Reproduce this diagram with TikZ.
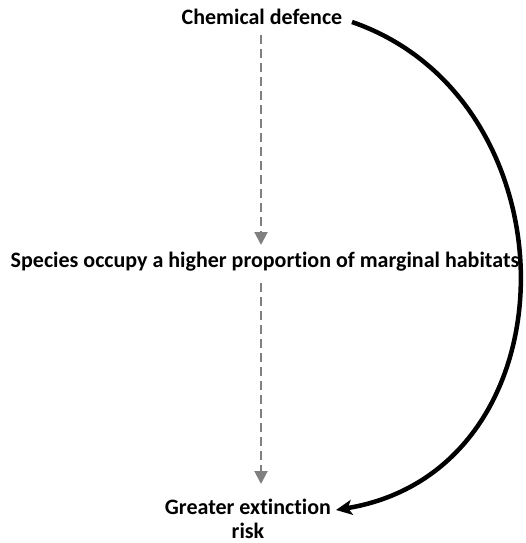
\documentclass[tikz,border=0pt]{standalone}
\usepackage{fontspec}
\setmainfont{Carlito}[Ligatures=NoCommon]
\usetikzlibrary{arrows.meta}

\tikzset{
  label/.style={font=\bfseries\fontsize{22}{24}\selectfont, inner sep=0pt, align=center},
  dashlink/.style={draw=gray, line width=2pt, dash pattern=on 9pt off 5pt, -{Triangle[length=13pt,width=13pt]}},
  curvelink/.style={draw=black, line width=4.5pt, -{Stealth[length=16pt,width=15pt,inset=4pt]}}
}

\begin{document}
\begin{tikzpicture}[x=1pt,y=1pt]
\useasboundingbox (0,0) rectangle (525,-543);

\node[label] (chem) at (262,-17) {Chemical defence};
\node[label] (habitat) at (265,-262) {Species occupy a higher proportion of marginal habitats};
\node[label] (risk) at (248,-519) {Greater extinction\\risk};

\coordinate (d1) at (261,-35);
\coordinate (d2) at (261,-245);
\coordinate (d3) at (261,-283);
\coordinate (d4) at (261,-484);
\draw[dashlink] (d1) -- (d2);
\draw[dashlink] (d3) -- (d4);

\coordinate (c1) at (352,-22);
\coordinate (c2) at (336,-510);
\draw[curvelink] (c1) .. controls (578,-100) and (578,-470) .. (c2);
\end{tikzpicture}
\end{document}
